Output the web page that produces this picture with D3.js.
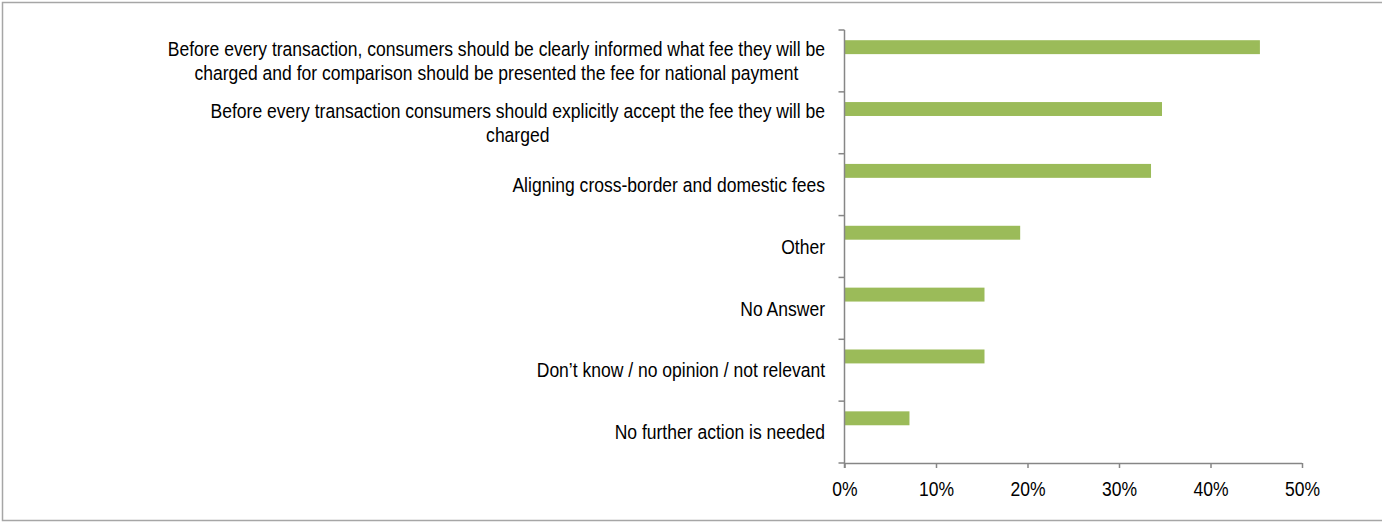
<!DOCTYPE html>
<html>
<head>
<meta charset="utf-8">
<script src="https://cdn.jsdelivr.net/npm/d3@7"></script>
<style>
  html, body { margin: 0; padding: 0; background: #fff; }
  svg { display: block; }
  text { font-family: "Liberation Sans", Arial, sans-serif; fill: #000; }
</style>
</head>
<body>
<svg id="chart" width="1382" height="523"></svg>
<script>
// Survey answers (line breaks mark where a long answer wraps)
const categories = [
  "Before every transaction, consumers should be clearly informed what fee they will be\ncharged and for comparison should be presented the fee for national payment",
  "Before every transaction consumers should explicitly accept the fee they will be\ncharged",
  "Aligning cross-border and domestic fees",
  "Other",
  "No Answer",
  "Don\u2019t know / no opinion / not relevant",
  "No further action is needed"
];
// Share of respondents (%)
const values = [45.4, 34.7, 33.5, 19.2, 15.3, 15.3, 7.1];
const xTicks = [0, 10, 20, 30, 40, 50];

const svg = d3.select("#chart");
const W = 1382, H = 523;
const axisColor = "#868686";
const barColor = "#9BBB59";
const fontSize = 20.5;   // tall, condensed lettering
const squeeze = 0.855;   // horizontal scale applied to all text

// outer frame (left, top, bottom edges visible)
svg.append("path")
  .attr("d", `M${W},2.5 H2.5 V520.5 H${W}`)
  .attr("fill", "none")
  .attr("stroke", "#a6a6a6")
  .attr("stroke-width", 1.5);

const plot = { left: 844.5, right: 1302, top: 30, bottom: 463 };

const x = d3.scaleLinear().domain([0, 50]).range([plot.left, plot.right]);
const y = d3.scaleBand().domain(categories).range([plot.top, plot.bottom]).padding(0);
const bw = y.bandwidth();

// bars
svg.append("g").selectAll("rect")
  .data(values)
  .join("rect")
  .attr("x", x(0))
  .attr("y", (d, i) => y(categories[i]) + bw * 0.165)
  .attr("height", bw * 0.225)
  .attr("width", d => x(d) - x(0))
  .attr("fill", barColor);

// x axis
const xAxis = d3.axisBottom(x)
  .tickValues(xTicks)
  .tickFormat(d => d + "%")
  .tickSize(5)
  .tickPadding(13);
const gx = svg.append("g").attr("transform", `translate(0,${plot.bottom})`).call(xAxis);
gx.select(".domain").attr("stroke", axisColor).attr("stroke-width", 1.5)
  .attr("d", `M${x(0)},0.5H${plot.right}`);
gx.selectAll(".tick line").attr("stroke", axisColor).attr("stroke-width", 1.5);
gx.selectAll(".tick text")
  .style("font-family", '"Liberation Sans", Arial, sans-serif')
  .style("font-size", fontSize + "px")
  .attr("fill", "#000")
  .attr("transform", `scale(${squeeze},1)`);

// y axis: ticks on category boundaries
const gy = svg.append("g");
gy.append("line")
  .attr("x1", plot.left).attr("x2", plot.left)
  .attr("y1", plot.top).attr("y2", plot.bottom + 5)
  .attr("stroke", axisColor).attr("stroke-width", 1.5);
const boundaries = categories.map(c => y(c)).concat([plot.bottom]);
gy.selectAll("line.tick")
  .data(boundaries)
  .join("line")
  .attr("class", "tick")
  .attr("x1", plot.left - 6).attr("x2", plot.left)
  .attr("y1", d => d).attr("y2", d => d)
  .attr("stroke", axisColor).attr("stroke-width", 1.5);

// category labels: block right-aligned to the axis, each line centred in the block
const lineH = 24.5;
const labelRight = plot.left - 19.5;
categories.forEach((c, i) => {
  const lines = c.split("\n");
  const cy = y(c) + bw / 2;
  const g = svg.append("g")
    .attr("transform", `translate(${labelRight},${cy}) scale(${squeeze},1)`);
  const t = g.append("text")
    .attr("text-anchor", "middle")
    .style("font-size", fontSize + "px");
  const spans = t.selectAll("tspan")
    .data(lines)
    .join("tspan")
    .attr("x", 0)
    .attr("y", (d, j) => (j - (lines.length - 1) / 2) * lineH)
    .attr("dy", "0.35em")
    .text(d => d);
  let maxW = 0;
  spans.each(function () { maxW = Math.max(maxW, this.getComputedTextLength()); });
  spans.attr("x", -maxW / 2);
});
</script>
</body>
</html>
